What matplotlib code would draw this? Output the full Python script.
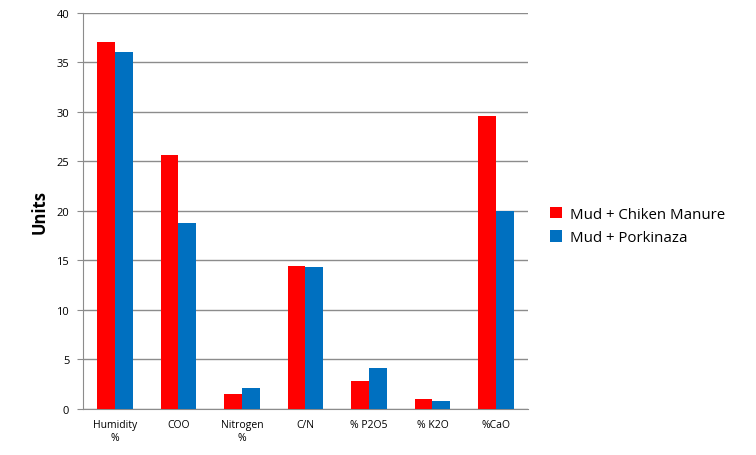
import numpy as np
import matplotlib.pyplot as plt

categories = ['Humidity\n%', 'COO', 'Nitrogen\n%', 'C/N', '% P2O5', '% K2O', '%CaO']
chicken = [37.0, 25.6, 1.5, 14.4, 2.8, 1.0, 29.6]
porkinaza = [36.0, 18.8, 2.1, 14.3, 4.1, 0.85, 20.0]
series_names = ['Mud + Chiken Manure', 'Mud + Porkinaza']

plt.rcParams['font.family'] = ['Open Sans', 'DejaVu Sans']

fig = plt.figure(figsize=(7.56, 4.56), dpi=100)
ax = fig.add_axes([0.110, 0.101, 0.588, 0.869])

x = np.arange(len(categories))
w = 0.28
ax.bar(x - w / 2, chicken, w, color='#FF0000', label=series_names[0], zorder=3)
ax.bar(x + w / 2, porkinaza, w, color='#0070C0', label=series_names[1], zorder=3)

ax.set_xlim(-0.5, len(categories) - 0.5)
ax.set_ylim(0, 40)
ax.set_yticks(range(0, 41, 5))
ax.yaxis.grid(True, color='#8c8c8c', linewidth=1, zorder=0)
ax.set_xticks(x)
ax.set_xticklabels(categories, fontsize=7.5, linespacing=1.3)
ax.tick_params(axis='y', labelsize=8, length=4, color='#8c8c8c', pad=6)
ax.tick_params(axis='x', length=0, pad=7)

for s in ['top', 'right']:
    ax.spines[s].set_visible(False)
for s in ['left', 'bottom']:
    ax.spines[s].set_color('#8c8c8c')

ax.set_ylabel('Units', fontsize=12, fontweight='bold', labelpad=6)

ax.legend(loc='center left', bbox_to_anchor=(1.02, 0.462), frameon=False,
          fontsize=10.8, handlelength=0.8, handleheight=0.8, handletextpad=0.5,
          labelspacing=0.55)

fig.savefig('out.png', dpi=100)
